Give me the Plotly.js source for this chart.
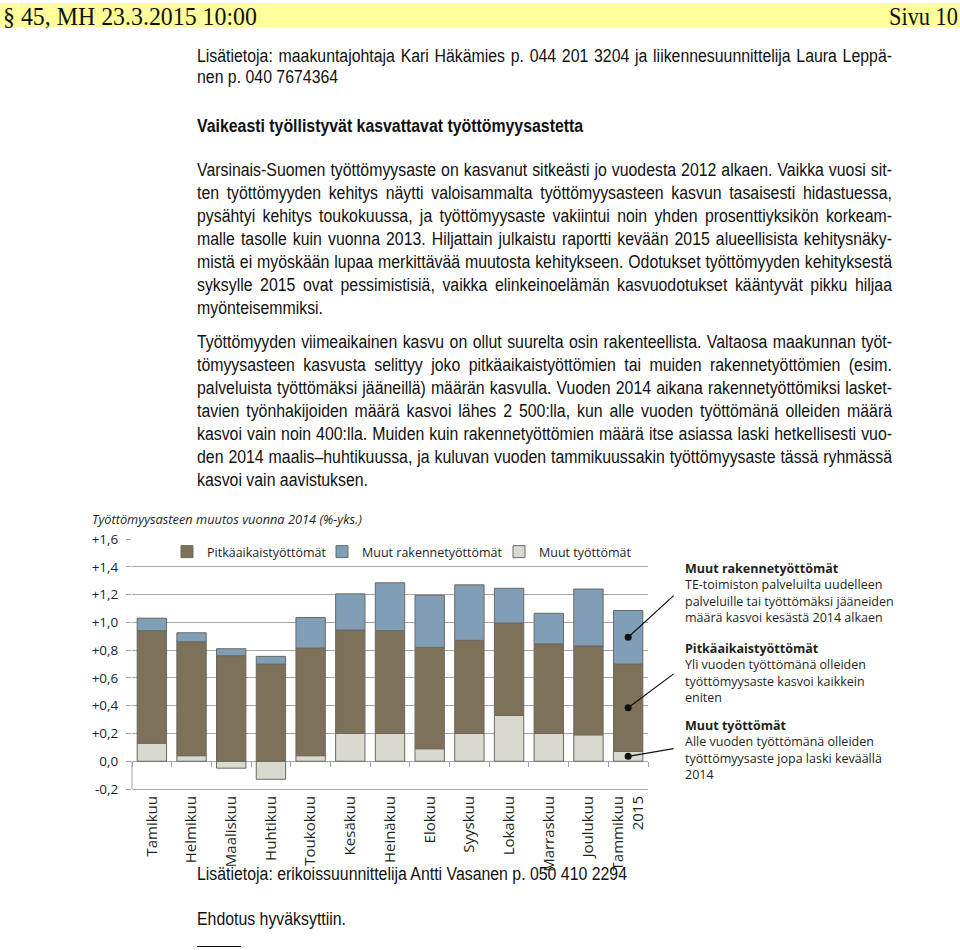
<!DOCTYPE html>
<html><head><meta charset="utf-8">
<script src="https://cdn.plot.ly/plotly-3.0.1.min.js"></script>
<style>
html,body{margin:0;padding:0;background:#fff;}
#page{position:relative;width:960px;height:950px;overflow:hidden;background:#fff;}
.ln{position:absolute;white-space:nowrap;font-family:'Liberation Sans',Arial,sans-serif;font-size:18px;line-height:20px;color:#111;transform-origin:0 50%;}
.hd{position:absolute;white-space:nowrap;font-family:'Liberation Serif','Times New Roman',serif;font-size:26px;line-height:24px;color:#111;transform-origin:0 50%;}
#chart{position:absolute;left:0;top:500px;width:960px;height:380px;}
</style></head>
<body><div id="page">
<div style="position:absolute;left:0;top:3px;width:960px;height:24px;background:#ffff99;"></div>
<div id="chart"></div>
<div style="position:absolute;left:197px;top:946px;width:44px;height:0;border-top:1px solid #111;"></div>
</div>
<script>
// ---------- chart data ----------
const categories = ['Tamikuu','Helmikuu','Maaliskuu','Huhtikuu','Toukokuu','Kesäkuu','Heinäkuu','Elokuu','Syyskuu','Lokakuu','Marraskuu','Joulukuu','Tammikuu<br>2015'];
const muutTyottomat = [0.13, 0.04, -0.05, -0.13, 0.04, 0.20, 0.20, 0.09, 0.20, 0.33, 0.20, 0.19, 0.07];
const pitkaaikaistyottomat = [0.81, 0.82, 0.76, 0.70, 0.775, 0.745, 0.74, 0.73, 0.67, 0.665, 0.645, 0.64, 0.63];
const muutRakennetyottomat = [0.09, 0.065, 0.05, 0.055, 0.22, 0.26, 0.345, 0.375, 0.40, 0.25, 0.22, 0.41, 0.385];
const seriesNames = ['Muut työttömät', 'Pitkäaikaistyöttömät', 'Muut rakennetyöttömät'];
const yTickVals = [-0.2, 0, 0.2, 0.4, 0.6, 0.8, 1.0, 1.2, 1.4, 1.6];
const yTickText = ['-0,2', '0,0', '+0,2', '+0,4', '+0,6', '+0,8', '+1,0', '+1,2', '+1,4', '+1,6'];
const chartTitle = 'Työttömyysasteen muutos vuonna 2014 (%-yks.)';
const noteRakenne = ['<b>Muut rakennetyöttömät</b>', 'TE-toimiston palveluilta uudelleen', 'palveluille tai työttömäksi jääneiden', 'määrä kasvoi kesästä 2014 alkaen'];
const notePitka = ['<b>Pitkäaikaistyöttömät</b>', 'Yli vuoden työttömänä olleiden', 'työttömyysaste kasvoi kaikkein', 'eniten'];
const noteMuut = ['<b>Muut työttömät</b>', 'Alle vuoden työttömänä olleiden', 'työttömyysaste jopa laski keväällä', '2014'];

// ---------- page text ----------
const headerLeft = '§ 45, MH 23.3.2015 10:00';
const headerRight = 'Sivu 10';
const introLines = ['Lisätietoja: maakuntajohtaja Kari Häkämies p. 044 201 3204 ja liikennesuunnittelija Laura Leppä-', 'nen p. 040 7674364'];
const heading = 'Vaikeasti työllistyvät kasvattavat työttömyysastetta';
const para1 = [
 'Varsinais-Suomen työttömyysaste on kasvanut sitkeästi jo vuodesta 2012 alkaen. Vaikka vuosi sit-',
 'ten työttömyyden kehitys näytti valoisammalta työttömyysasteen kasvun tasaisesti hidastuessa,',
 'pysähtyi kehitys toukokuussa, ja työttömyysaste vakiintui noin yhden prosenttiyksikön korkeam-',
 'malle tasolle kuin vuonna 2013. Hiljattain julkaistu raportti kevään 2015 alueellisista kehitysnäky-',
 'mistä ei myöskään lupaa merkittävää muutosta kehitykseen. Odotukset työttömyyden kehityksestä',
 'syksylle 2015 ovat pessimistisiä, vaikka elinkeinoelämän kasvuodotukset kääntyvät pikku hiljaa',
 'myönteisemmiksi.'];
const para2 = [
 'Työttömyyden viimeaikainen kasvu on ollut suurelta osin rakenteellista. Valtaosa maakunnan työt-',
 'tömyysasteen kasvusta selittyy joko pitkäaikaistyöttömien tai muiden rakennetyöttömien (esim.',
 'palveluista työttömäksi jääneillä) määrän kasvulla. Vuoden 2014 aikana rakennetyöttömiksi lasket-',
 'tavien työnhakijoiden määrä kasvoi lähes 2 500:lla, kun alle vuoden työttömänä olleiden määrä',
 'kasvoi vain noin 400:lla. Muiden kuin rakennetyöttömien määrä itse asiassa laski hetkellisesti vuo-',
 'den 2014 maalis–huhtikuussa, ja kuluvan vuoden tammikuussakin työttömyysaste tässä ryhmässä',
 'kasvoi vain aavistuksen.'];
const contactLine = 'Lisätietoja: erikoissuunnittelija Antti Vasanen p. 050 410 2294';
const decisionLine = 'Ehdotus hyväksyttiin.';

// ---------- layout text on page ----------
const page = document.getElementById('page');
const LEFT = 197, BLOCKW = 695;
function mkLine(cls, text, x, top, bold){
  const d = document.createElement('div');
  d.className = cls; d.textContent = text;
  if (bold) d.style.fontWeight = 'bold';
  d.style.left = x + 'px'; d.style.top = top + 'px';
  page.appendChild(d);
  return d;
}
const ref = mkLine('ln', contactLine, LEFT, 0, false);
const S = 430 / ref.getBoundingClientRect().width;
page.removeChild(ref);

function bodyLine(text, cy, justify, bold){
  const d = mkLine('ln', text, LEFT, cy - 10, bold);
  const w = d.getBoundingClientRect().width;
  let sc = S;
  if (justify){
    sc = Math.min(S, BLOCKW / w);
    const spaces = (text.match(/ /g) || []).length;
    if (spaces > 0) d.style.wordSpacing = ((BLOCKW / sc - w) / spaces) + 'px';
  }
  d.style.transform = 'scaleX(' + sc + ')';
}
function hdrLine(text, x, cy, targetW){
  const d = mkLine('hd', text, x, cy - 12, false);
  const w = d.getBoundingClientRect().width;
  d.style.transform = 'scaleX(' + (targetW / w) + ')';
}
hdrLine(headerLeft, 3, 17, 254);
hdrLine(headerRight, 889, 17, 69);

bodyLine(introLines[0], 56, true);
bodyLine(introLines[1], 77, false);
bodyLine(heading, 126, false, true);
para1.forEach((t, i) => bodyLine(t, 170 + i * 23, i < para1.length - 1));
para2.forEach((t, i) => bodyLine(t, 342 + i * 23, i < para2.length - 1));
bodyLine(contactLine, 874, false);
bodyLine(decisionLine, 919, false);

// ---------- chart ----------
const FONT = "'Open Sans', 'Noto Sans', sans-serif";
const TXT = '#231f20';
const GRID = '#a3a3a3';
const colors = ['#d9d9cf', '#7e7159', '#809fb6'];
const legendIds = ['legend3', 'legend', 'legend2'];
const vals = [muutTyottomat, pitkaaikaistyottomat, muutRakennetyottomat];

const traces = vals.map((v, k) => ({
  type: 'bar', name: seriesNames[k], x: categories, y: v,
  marker: {color: colors[k], line: {color: '#6a6a62', width: 1}},
  legend: legendIds[k], hoverinfo: 'skip'
}));

const last = categories.length - 1;
const dotY = [
  muutTyottomat[last] / 2,
  muutTyottomat[last] + pitkaaikaistyottomat[last] / 2,
  muutTyottomat[last] + pitkaaikaistyottomat[last] + muutRakennetyottomat[last] / 2
];
traces.push({
  type: 'scatter', mode: 'markers', x: dotY.map(() => categories[last]), y: dotY,
  marker: {color: '#111', size: 7}, showlegend: false, hoverinfo: 'skip'
});
traces.push({type: 'scatter', mode: 'none', x: [0], y: [0], xaxis: 'x2', showlegend: false, hoverinfo: 'skip'});

const boundaries = categories.map((c, i) => i - 0.5).concat([categories.length - 0.5]);

const leader = (yv, ay) => ({
  x: categories[last], y: yv, xref: 'x', yref: 'y', text: '', showarrow: true,
  arrowhead: 0, arrowwidth: 1.2, arrowcolor: '#111', ax: 47, ay: ay, standoff: 0
});
const note = (lines, ypos) => ({
  xref: 'paper', yref: 'paper', x: (683 - 132) / 516, y: ypos, xanchor: 'left', yanchor: 'top',
  align: 'left', showarrow: false, text: lines.join('<br>'),
  font: {family: FONT, size: 12.5, color: TXT}
});
const legendBox = (xpos) => ({
  orientation: 'h', x: xpos, xanchor: 'left', y: 0.948, yanchor: 'middle',
  bgcolor: 'rgba(0,0,0,0)', itemwidth: 30, font: {family: FONT, size: 12.5, color: TXT}
});

const layout = {
  width: 960, height: 380,
  margin: {l: 132, r: 312, t: 39, b: 91},
  paper_bgcolor: 'rgba(0,0,0,0)', plot_bgcolor: 'rgba(0,0,0,0)',
  barmode: 'relative', bargap: 0.26,
  font: {family: FONT, color: TXT, size: 13},
  showlegend: true,
  title: {text: '<i>' + chartTitle + '</i>', xref: 'container', yref: 'container',
          x: 92 / 960, xanchor: 'left', y: 1 - 20 / 380, yanchor: 'middle',
          font: {family: FONT, size: 12.8, color: TXT}},
  legend: legendBox((167 - 132) / 516),
  legend2: legendBox((322 - 132) / 516),
  legend3: legendBox((499 - 132) / 516),
  xaxis: {type: 'category', showgrid: false, showline: true, linecolor: GRID, linewidth: 1,
          ticks: '', tickangle: -90, tickfont: {family: FONT, size: 15, color: TXT}, zeroline: false,
          range: [-0.5, categories.length - 0.5]},
  xaxis2: {overlaying: 'x', anchor: 'free', position: 0.2 / 1.8, side: 'bottom',
           range: [-0.5, categories.length - 0.5], tickmode: 'array', tickvals: boundaries,
           ticks: 'outside', ticklen: 5, tickcolor: GRID, tickwidth: 1,
           showticklabels: false, showgrid: false, showline: false, zeroline: false},
  yaxis: {range: [-0.2, 1.6], tickmode: 'array', tickvals: yTickVals, ticktext: yTickText,
          showgrid: true, gridcolor: GRID, gridwidth: 1, zeroline: true, zerolinecolor: GRID, zerolinewidth: 1,
          ticks: 'outside', ticklen: 5, tickcolor: GRID, ticklabelstandoff: 5,
          tickfont: {family: FONT, size: 13.5, color: TXT}, showline: false},
  shapes: [{type: 'line', xref: 'paper', yref: 'y', x0: 0, x1: 0, y0: -0.2, y1: 0,
            line: {color: GRID, width: 1}}],
  annotations: [
    leader(dotY[2], -43), leader(dotY[1], -35), leader(dotY[0], -8),
    note(noteRakenne, 0.925), note(notePitka, 0.605), note(noteMuut, 0.297)
  ]
};
Plotly.newPlot('chart', traces, layout, {displayModeBar: false, staticPlot: true});
</script>
</body></html>
